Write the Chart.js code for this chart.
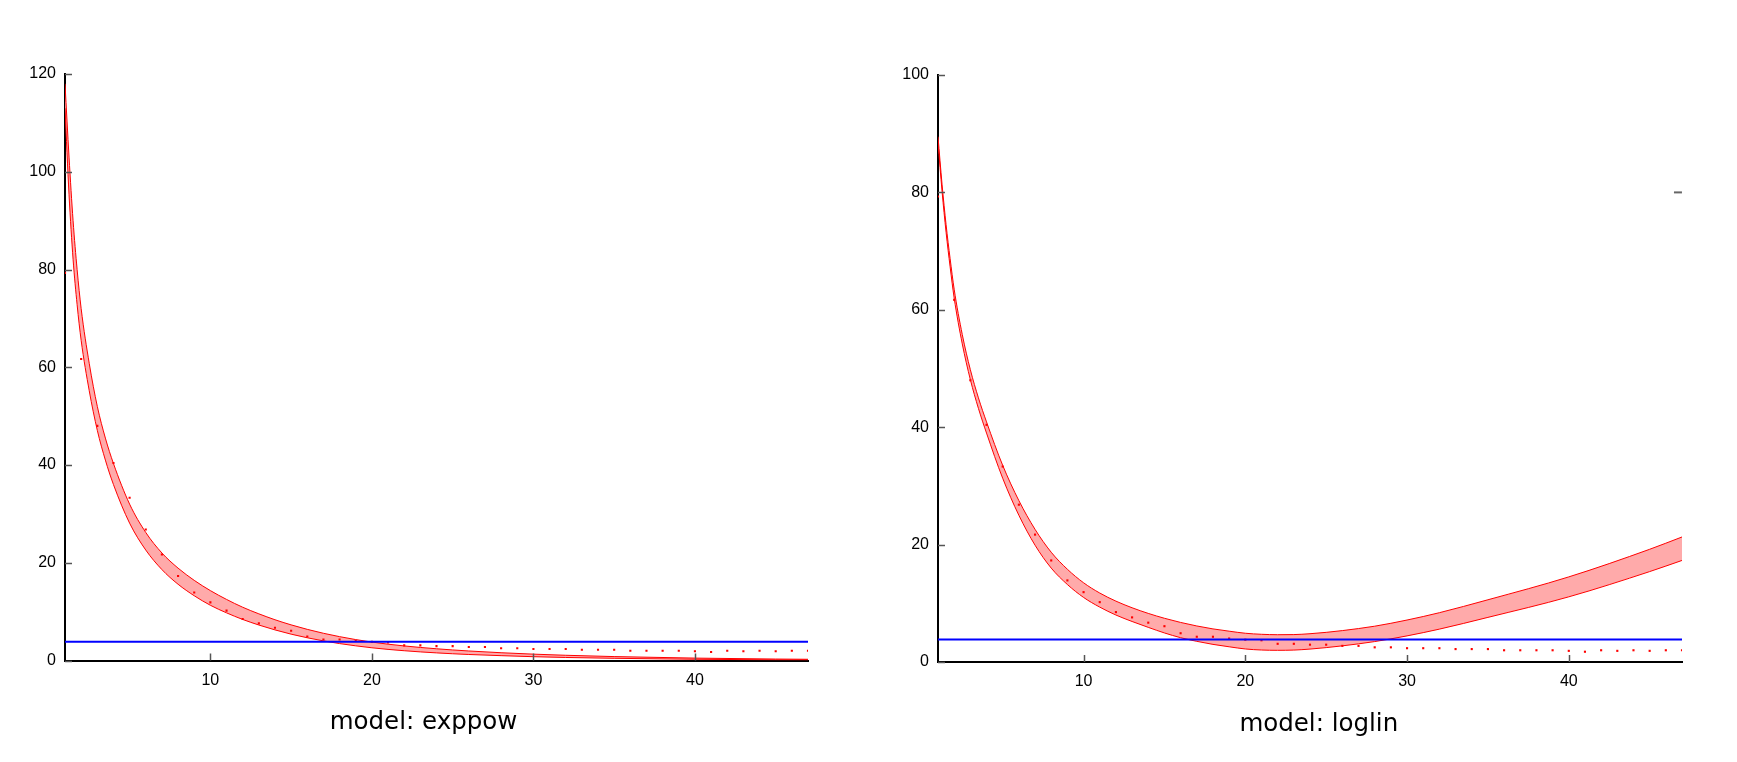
<!DOCTYPE html>
<html>
<head>
<meta charset="utf-8">
<script src="https://cdn.jsdelivr.net/npm/chart.js@4.4.1/dist/chart.umd.min.js"></script>
<style>
  html, body { margin: 0; padding: 0; background: #ffffff; overflow: hidden; }
  #wrap { position: relative; width: 1737px; height: 762px; }
  canvas { position: absolute; top: 0; }
</style>
</head>
<body>
<div id="wrap">
  <canvas id="left" width="868" height="762" style="left:0px"></canvas>
  <canvas id="right" width="869" height="762" style="left:868px"></canvas>
</div>
<script>
// ---------- data ----------
const xTickValues = [10, 20, 30, 40];
const leftYMax = 120;
const rightYMax = 100;
const yStep = 20;
const xMin = 1;
const xMax = 47;
const criticalValue = 3.84;

const obsX = [1,2,3,4,5,6,7,8,9,10,11,12,13,14,15,16,17,18,19,20,21,22,23,24,25,26,27,28,29,30,31,32,33,34,35,36,37,38,39,40,41,42,43,44,45,46,47];
const obsY = [79.3,61.7,48.0,40.4,33.3,26.8,21.7,17.3,13.9,11.9,10.2,8.5,7.6,6.7,6.1,4.9,4.3,4.3,4.0,3.8,3.7,3.1,3.1,2.95,2.95,2.75,2.75,2.5,2.5,2.35,2.35,2.35,2.2,2.2,2.2,2.0,2.0,2.0,2.0,1.9,1.75,2.0,1.9,2.0,1.9,2.0,2.0];

const curveX = [1,1.25,1.5,1.75,2,2.5,3,3.5,4,5,6,7,8,9,10,11,12,13,14,15,16,17,18,19,20,21,22,23,24,25,26,28,30,32,35,40,45,47];

const exppowUpper = [118,103,90,80,72,60.8,52,45.5,40.3,32.0,26.2,22.0,18.9,16.4,14.3,12.5,10.9,9.55,8.34,7.29,6.37,5.57,4.88,4.28,3.77,3.34,2.98,2.67,2.40,2.16,1.95,1.59,1.30,1.07,0.80,0.49,0.30,0.25];
const exppowLower = [113,95.3,82.1,72.8,65.5,55.2,47.1,41.0,36.0,28.1,22.6,18.6,15.6,13.25,11.3,9.75,8.4,7.26,6.26,5.39,4.65,4.01,3.46,3.0,2.6,2.27,2.0,1.76,1.56,1.38,1.23,0.99,0.78,0.62,0.45,0.25,0.14,0.12];

const loglinUpper = [89.5,81.4,74.5,68.7,63.5,55.8,49.8,45.0,40.9,33.5,27.5,22.6,18.7,15.8,13.5,11.75,10.37,9.24,8.28,7.45,6.74,6.14,5.64,5.25,4.9,4.72,4.65,4.67,4.82,5.05,5.35,6.1,7.15,8.4,10.6,14.5,19.2,21.3];
const loglinLower = [88.5,80.2,73.2,67.3,62.0,54.2,48.1,43.2,39.0,31.3,25.0,19.9,16.0,13.2,11.0,9.35,8.0,6.9,5.9,4.95,4.14,3.52,3.0,2.59,2.22,2.04,1.99,2.03,2.2,2.45,2.75,3.48,4.45,5.6,7.6,11.1,15.4,17.3];

const markerX = [46.75];
const markerY = [80];

// ---------- helpers ----------
const pts = (xs, ys) => xs.map((x, i) => ({ x: x, y: ys[i] }));

const inwardTicks = {
  id: 'inwardTicks',
  afterDatasetsDraw(chart) {
    const { ctx, chartArea, scales } = chart;
    ctx.save();
    ctx.strokeStyle = '#555555';
    ctx.lineWidth = 1.5;
    scales.x.ticks.forEach((t, i) => {
      const px = Math.round(scales.x.getPixelForTick(i)) + 0.5;
      ctx.beginPath();
      ctx.moveTo(px, chartArea.bottom);
      ctx.lineTo(px, chartArea.bottom - 7);
      ctx.stroke();
    });
    scales.y.ticks.forEach((t, i) => {
      const py = Math.round(scales.y.getPixelForTick(i)) + 0.5;
      ctx.beginPath();
      ctx.moveTo(chartArea.left, py);
      ctx.lineTo(chartArea.left + 7, py);
      ctx.stroke();
    });
    ctx.restore();
  }
};

function makeConfig(opts) {
  const datasets = [
    { label: 'critical', data: [{ x: xMin, y: criticalValue }, { x: xMax, y: criticalValue }],
      borderColor: '#0000ff', borderWidth: 2, pointRadius: 0, fill: false },
    { label: 'observed', data: pts(obsX, obsY), showLine: false,
      pointStyle: 'rect', pointRadius: 1.5, pointBackgroundColor: '#ff0000', pointBorderWidth: 0 },
    { label: 'upper', data: pts(curveX, opts.upper), borderColor: '#ff0000', borderWidth: 1,
      pointRadius: 0, cubicInterpolationMode: 'monotone', fill: '+1', backgroundColor: '#ffaaaa' },
    { label: 'lower', data: pts(curveX, opts.lower), borderColor: '#ff0000', borderWidth: 1,
      pointRadius: 0, cubicInterpolationMode: 'monotone', fill: false }
  ];
  if (opts.marker) {
    datasets.push({ label: 'marker', data: pts(markerX, markerY), showLine: false,
      pointStyle: 'line', pointRadius: 4, pointBorderColor: '#666666', pointBorderWidth: 2 });
  }
  const scales = {
    x: {
      type: 'linear', min: xMin, max: xMax, position: 'bottom',
      grid: { display: false, drawTicks: false },
      border: { display: true, color: '#000000', width: 2 },
      ticks: { color: '#000000', padding: 10, font: { family: 'Liberation Sans', size: 16 } },
      afterBuildTicks: s => { s.ticks = xTickValues.map(v => ({ value: v })); },
      afterFit: s => { s.height = opts.xAxisHeight; }
    },
    y: {
      type: 'linear', min: 0, max: opts.yMax, position: 'left',
      grid: { display: false, drawTicks: false },
      border: { display: true, color: '#000000', width: 2 },
      ticks: { color: '#000000', stepSize: yStep, padding: 9, font: { family: 'Liberation Sans', size: 16 } },
      afterFit: s => { s.width = opts.yAxisWidth; }
    }
  };
  if (opts.rightSpacer) {
    scales.yR = {
      type: 'linear', position: 'right', display: true,
      grid: { display: false, drawTicks: false }, border: { display: false },
      ticks: { display: false },
      afterFit: s => { s.width = opts.rightSpacer; }
    };
  }
  return {
    type: 'line',
    data: { datasets: datasets },
    options: {
      responsive: false, animation: false, devicePixelRatio: 1,
      layout: { padding: opts.padding },
      scales: scales,
      plugins: {
        legend: { display: false },
        tooltip: { enabled: false },
        filler: { drawTime: 'beforeDatasetsDraw' },
        title: { display: true, text: opts.title, position: 'bottom', fullSize: true,
          color: '#000000', padding: 0,
          font: { family: 'DejaVu Sans', size: 24.5, weight: 'normal', lineHeight: 1.2 } }
      }
    },
    plugins: [inwardTicks]
  };
}

new Chart(document.getElementById('left'), makeConfig({
  title: 'model: exppow', upper: exppowUpper, lower: exppowLower, yMax: leftYMax,
  padding: { top: 74, left: 28, right: 49, bottom: 24.6 },
  yAxisWidth: 37, xAxisHeight: 47.5, rightSpacer: 11
}));

new Chart(document.getElementById('right'), makeConfig({
  title: 'model: loglin', upper: loglinUpper, lower: loglinLower, yMax: rightYMax,
  padding: { top: 75, left: 32.6, right: 0, bottom: 22.9 },
  yAxisWidth: 37.4, xAxisHeight: 47.7, rightSpacer: 55, marker: true
}));
</script>
</body>
</html>
